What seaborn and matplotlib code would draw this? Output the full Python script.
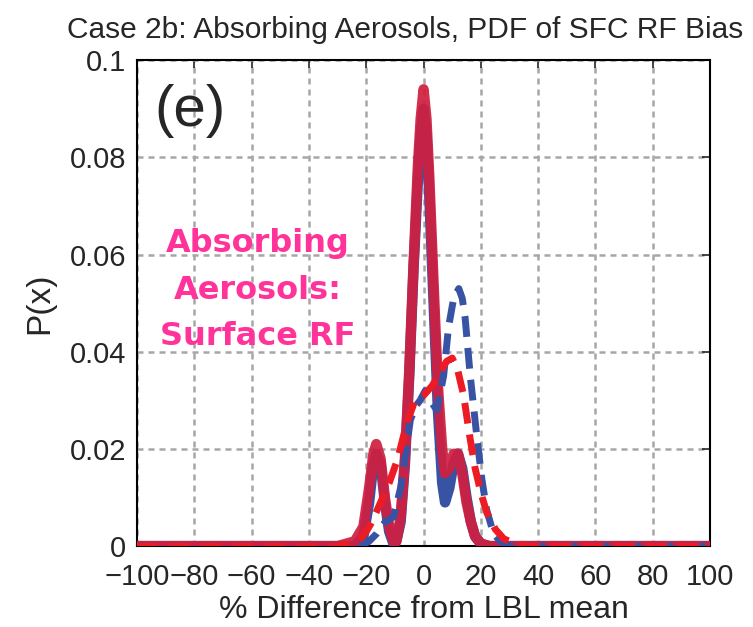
import numpy as np
import pandas as pd
import seaborn as sns
import matplotlib.pyplot as plt

# ── Data (x in %, y = P(x)) ───────────────────────────────────────────────────
x_red_solid = [-100, -30, -24, -21, -19, -17.5, -16.5, -15, -13.5, -12, -10.5, -9.5,
               -8, -6.5, -5, -3.5, -2, -1, 0, 1, 2, 3.5, 5, 6.5, 7.5, 9, 10.5,
               12, 13.5, 15, 16.5, 18, 20, 23, 30, 100]
y_red_solid = [0, 0, 0.001, 0.004, 0.012, 0.019, 0.021, 0.018, 0.010, 0.004, 0.001, 0.001,
               0.006, 0.018, 0.036, 0.058, 0.078, 0.088, 0.094, 0.088, 0.076, 0.054, 0.033,
               0.020, 0.015, 0.016, 0.019, 0.019, 0.015, 0.009, 0.005, 0.002, 0.0005, 0, 0, 0]

x_blue_solid = x_red_solid
y_blue_solid = [0, 0, 0, 0.002, 0.009, 0.017, 0.019, 0.017, 0.009, 0.003, 0.0005, 0.001,
                0.005, 0.017, 0.035, 0.057, 0.075, 0.085, 0.090, 0.085, 0.072, 0.050, 0.028,
                0.013, 0.009, 0.012, 0.017, 0.019, 0.016, 0.010, 0.005, 0.002, 0.0005, 0, 0, 0]

x_blue_dash = [-100, -22, -19, -16.3, -13.4, -10.5, -8, -6, -4.6, -2.5, -1.2, 0.6, 2.3,
               4.6, 7, 8.7, 10.5, 12.3, 13.5, 14.5, 16.3, 18.6, 20.3, 22, 24.4, 26.7, 30, 100]
y_blue_dash = [0, 0, 0.001, 0.0026, 0.005, 0.006, 0.012, 0.020, 0.026, 0.029, 0.030, 0.032,
               0.030, 0.028, 0.035, 0.045, 0.051, 0.053, 0.051, 0.047, 0.035, 0.0225, 0.014,
               0.0075, 0.0026, 0.001, 0, 0]

x_red_dash = [-100, -30, -25, -22, -20, -18, -15, -12, -9, -6, -3, 0, 3, 6, 8, 10, 12,
              14, 16, 18, 20, 22, 25, 28, 32, 36, 100]
y_red_dash = [0, 0, 0.0005, 0.0015, 0.003, 0.005, 0.009, 0.013, 0.018, 0.025, 0.030, 0.031,
              0.033, 0.036, 0.038, 0.0387, 0.036, 0.031, 0.023, 0.016, 0.011, 0.007, 0.0035,
              0.0015, 0.0005, 0, 0]

x_ticks = list(range(-100, 101, 20))
y_ticks = [0, 0.02, 0.04, 0.06, 0.08, 0.1]
y_tick_labels = ["0", "0.02", "0.04", "0.06", "0.08", "0.1"]

blue = "#3953a4"
red_dash = "#ed1c24"
red_solid = "#d02040"

sns.set_style("white")
plt.rcParams["font.family"] = ["Liberation Sans", "DejaVu Sans"]

fig = plt.figure(figsize=(7.53, 6.27), dpi=100)
ax = fig.add_axes([0.182, 0.129, 0.761, 0.775])

# ── Curves ────────────────────────────────────────────────────────────────────
sns.lineplot(x=x_blue_solid, y=y_blue_solid, ax=ax, color=blue, linewidth=7.5,
             sort=False, solid_capstyle="round", zorder=3)
sns.lineplot(x=x_red_solid, y=y_red_solid, ax=ax, color=red_solid, linewidth=7.5,
             alpha=0.93, sort=False, solid_capstyle="round", zorder=4)
sns.lineplot(x=x_blue_dash, y=y_blue_dash, ax=ax, color=blue, linewidth=5,
             sort=False, zorder=5)
ax.lines[-1].set_dashes((3.0, 1.6))
sns.lineplot(x=x_red_dash, y=y_red_dash, ax=ax, color=red_dash, linewidth=5,
             sort=False, zorder=6)
ax.lines[-1].set_dashes((3.0, 1.6))

# ── Axes styling ──────────────────────────────────────────────────────────────
ax.set_xlim(-100, 100)
ax.set_ylim(0, 0.1)
ax.set_xticks(x_ticks)
ax.set_xticklabels([str(t).replace("-", "\u2212") for t in x_ticks])
ax.set_yticks(y_ticks)
ax.set_yticklabels(y_tick_labels)
ax.grid(True, color="#a6a6a6", linewidth=1.8, linestyle=(0, (2.4, 2.0)))
ax.set_axisbelow(True)
for s in ax.spines.values():
    s.set_color("black")
    s.set_linewidth(1.5)
ax.tick_params(direction="in", length=6, width=1.2, top=True, right=True,
               labelsize=21)
ax.tick_params(axis="x", pad=12)
ax.tick_params(axis="y", pad=8)
ax.set_xlabel("% Difference from LBL mean", fontsize=23, labelpad=3)
ax.set_ylabel("P(x)", fontsize=24, labelpad=10)
fig.text(0.538, 1 - 38 / 627, "Case 2b: Absorbing Aerosols, PDF of SFC RF Bias",
         fontsize=21.5, ha="center", va="baseline")

ax.text(0.03, 0.895, "(e)", transform=ax.transAxes, fontsize=42,
        ha="left", va="center", zorder=7)
ax.text(0.211, 0.527, "Absorbing\nAerosols:\nSurface RF", transform=ax.transAxes,
        fontsize=23, fontweight="bold", color="#ff3399", ha="center", va="center",
        linespacing=1.65, family=["DejaVu Sans"], zorder=7)

fig.savefig("out.png", dpi=100)
